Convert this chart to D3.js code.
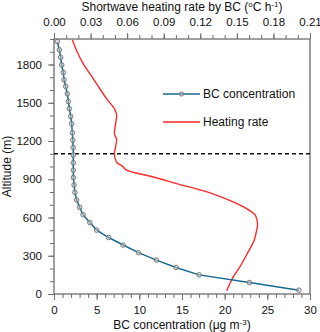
<!DOCTYPE html>
<html>
<head>
<meta charset="utf-8">
<script src="https://cdn.jsdelivr.net/npm/d3@7"></script>
<style>
  body { margin: 0; background: #fff; }
  svg text { font-family: "Liberation Sans", Arial, sans-serif; fill: #111; }
</style>
</head>
<body>
<svg id="chart" width="320" height="332"></svg>
<script>
// BC profile levels (m) and concentration (ug m-3)
var bcAlt = [30, 90, 150, 208, 266, 324, 384, 443, 501, 560, 622, 680, 738, 797, 855, 913, 971,
             1030, 1090, 1148, 1206, 1265, 1335, 1393, 1453, 1510, 1570, 1628, 1680, 1737, 1797, 1857, 1915, 1980];
var bcVal = [28.7, 22.9, 17.0, 14.3, 12.0, 9.9, 8.1, 6.4, 5.0, 4.2, 3.4, 3.0, 2.65, 2.45, 2.35, 2.28, 2.26,
             2.26, 2.26, 2.25, 2.2, 2.15, 2.07, 1.96, 1.8, 1.68, 1.56, 1.37, 1.17, 1.09, 0.9, 0.78, 0.62, 0.39];

// shortwave heating rate (oC h-1)
var hrAlt = [25, 130, 215, 320, 430, 490, 540, 580, 620, 670, 722, 793, 866, 918, 970, 1007, 1030,
             1100, 1158, 1210, 1262, 1340, 1400, 1445, 1531, 1648, 1706, 1805, 1900, 1995];
var hrVal = [0.1417, 0.1468, 0.1526, 0.1587, 0.1645, 0.166, 0.167, 0.1665, 0.165, 0.158, 0.147, 0.128,
             0.1006, 0.0815, 0.060, 0.0555, 0.0515, 0.0495, 0.0506, 0.0514, 0.0495, 0.0506, 0.0514,
             0.0500, 0.0432, 0.035, 0.031, 0.024, 0.019, 0.015];

var pblHeight = 1100; // dashed line
var bcTicks = [0, 5, 10, 15, 20, 25, 30];
var hrTicks = [0, 0.03, 0.06, 0.09, 0.12, 0.15, 0.18, 0.21];
var altTicks = [0, 300, 600, 900, 1200, 1500, 1800];
var legendNames = ["BC concentration", "Heating rate"];

var BLUE = "#17698f", RED = "#ff2a2a", FRAME = "#6e6e6e";
// NB: "top" is taken by window.top, so plot edges get a prefix
var pLeft = 54, pRight = 310, pTop = 39, pBottom = 294;

var svg = d3.select("#chart");

var x = d3.scaleLinear().domain([0, 30]).range([pLeft, pRight]);
var x2 = d3.scaleLinear().domain([0, 0.21]).range([pLeft, pRight]);
var y = d3.scaleLinear().domain([0, 2000]).range([pBottom, pTop]);

// minor ticks first (no labels), then major
function minor(axis, vals) {
    return axis.tickValues(vals).tickSize(4).tickFormat("");
}
svg.append("g").attr("transform", "translate(0," + pBottom + ")")
    .call(minor(d3.axisBottom(x), d3.range(0, 31, 1)));
svg.append("g").attr("transform", "translate(0," + pBottom + ")")
    .call(d3.axisBottom(x).tickValues(bcTicks).tickSize(6).tickPadding(6).tickFormat(d3.format("d")));
svg.append("g").attr("transform", "translate(0," + pTop + ")")
    .call(minor(d3.axisTop(x2), d3.range(0, 22, 1).map(function(d){ return d / 100; })));
svg.append("g").attr("transform", "translate(0," + pTop + ")")
    .call(d3.axisTop(x2).tickValues(hrTicks).tickSize(6).tickPadding(7).tickFormat(d3.format(".2f")));
svg.append("g").attr("transform", "translate(" + pLeft + ",0)")
    .call(minor(d3.axisLeft(y), d3.range(0, 2001, 100)));
svg.append("g").attr("transform", "translate(" + pLeft + ",0)")
    .call(d3.axisLeft(y).tickValues(altTicks).tickSize(6).tickPadding(6).tickFormat(d3.format("d")));

svg.selectAll(".domain").remove();
svg.selectAll(".tick line").attr("stroke", FRAME);
svg.selectAll(".tick text").attr("font-size", 11.5).attr("fill", "#111")
    .attr("font-family", "Liberation Sans, Arial, sans-serif");

// frame
svg.append("rect").attr("x", pLeft).attr("y", pTop)
    .attr("width", pRight - pLeft).attr("height", pBottom - pTop)
    .attr("fill", "none").attr("stroke", FRAME).attr("stroke-width", 1.3);

// dashed line
svg.append("line").attr("x1", pLeft).attr("x2", pRight)
    .attr("y1", y(pblHeight)).attr("y2", y(pblHeight))
    .attr("stroke", "#111").attr("stroke-width", 1.3).attr("stroke-dasharray", "4,3");

// heating rate
var hrData = hrAlt.map(function(a, i){ return {a: a, v: hrVal[i]}; });
svg.append("path").datum(hrData)
    .attr("fill", "none").attr("stroke", RED).attr("stroke-width", 1.4)
    .attr("d", d3.line().x(function(d){ return x2(d.v); }).y(function(d){ return y(d.a); })
        .curve(d3.curveMonotoneY));

// BC concentration
var bcData = bcAlt.map(function(a, i){ return {a: a, v: bcVal[i]}; });
svg.append("path").datum(bcData)
    .attr("fill", "none").attr("stroke", BLUE).attr("stroke-width", 1.5)
    .attr("d", d3.line().x(function(d){ return x(d.v); }).y(function(d){ return y(d.a); }));
svg.selectAll(".bcpt").data(bcData).enter().append("circle")
    .attr("class", "bcpt")
    .attr("cx", function(d){ return x(d.v); }).attr("cy", function(d){ return y(d.a); })
    .attr("r", 2.3).attr("fill", "#c8c8c8").attr("fill-opacity", 0.5)
    .attr("stroke", "#707070").attr("stroke-width", 0.9);

// legend
var lg = svg.append("g");
lg.append("line").attr("x1", 163).attr("x2", 200).attr("y1", 94).attr("y2", 94)
    .attr("stroke", BLUE).attr("stroke-width", 1.5);
lg.append("circle").attr("cx", 181.5).attr("cy", 94).attr("r", 2.1)
    .attr("fill", "#c8c8c8").attr("fill-opacity", 0.5).attr("stroke", "#707070").attr("stroke-width", 0.9);
lg.append("line").attr("x1", 163).attr("x2", 200).attr("y1", 122).attr("y2", 122)
    .attr("stroke", RED).attr("stroke-width", 1.5);
lg.selectAll("text").data(legendNames).enter().append("text")
    .attr("x", 203).attr("y", function(d, i){ return 98 + i * 28; })
    .attr("font-size", 12).text(function(d){ return d; });

// axis titles
var t1 = svg.append("text").attr("x", (pLeft + pRight) / 2).attr("y", 11)
    .attr("text-anchor", "middle").attr("font-size", 12);
t1.append("tspan").text("Shortwave heating rate by BC (");
t1.append("tspan").attr("font-size", 8).attr("dy", -4).text("o");
t1.append("tspan").attr("dy", 4).text("C h");
t1.append("tspan").attr("font-size", 8).attr("dy", -4).text("-1");
t1.append("tspan").attr("dy", 4).text(")");

var t2 = svg.append("text").attr("x", (pLeft + pRight) / 2).attr("y", 329)
    .attr("text-anchor", "middle").attr("font-size", 12);
t2.append("tspan").text("BC concentration (\u03bcg m");
t2.append("tspan").attr("font-size", 8).attr("dy", -4).text("-3");
t2.append("tspan").attr("dy", 4).text(")");

svg.append("text").attr("transform", "translate(10.5," + ((pTop + pBottom) / 2) + ") rotate(-90)")
    .attr("text-anchor", "middle").attr("font-size", 12).text("Altitude (m)");
</script>
</body>
</html>
